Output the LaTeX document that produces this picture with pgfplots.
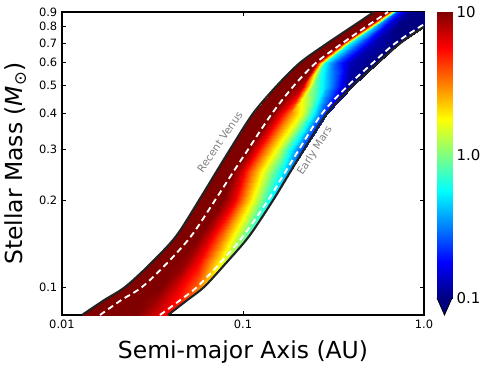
\documentclass[border=0pt]{standalone}
\usepackage{fontspec}
\setmainfont{DejaVu Sans}
\usepackage{pgfplots}
\pgfplotsset{compat=1.18}
\definecolor{jetdb}{rgb}{0,0,0.5}
\definecolor{edgegray}{HTML}{222222}
\begin{document}
\begin{tikzpicture}
\useasboundingbox (-46.5pt,-39.75pt) rectangle (316.5pt,236.25pt);
\begin{axis}[
  name=main, at={(0,0)}, anchor=south west,
  scale only axis, width=271.5pt, height=227.25pt,
  xmode=log, ymode=log,
  xmin=0.01, xmax=1, ymin=0.08, ymax=0.9,
  xtick={0.01,0.1,1}, xticklabels={0.01,0.1,1.0},
  ytick={0.1,0.2,0.3,0.4,0.5,0.6,0.7,0.8,0.9},
  yticklabels={0.1,0.2,0.3,0.4,0.5,0.6,0.7,0.8,0.9},
  xminorticks=false, yminorticks=false,
  tick align=inside, major tick length=3pt,
  every tick/.style={black, line width=0.6pt},
  axis line style={line width=0.9pt},
  tick label style={font=\fontsize{8.6}{10}\selectfont},
  xlabel={Semi-major Axis (AU)},
  ylabel={Stellar Mass (\textit{M}\textsubscript{⊙})},
  label style={font=\fontsize{17.6}{20}\selectfont},
  xlabel style={at={(axis description cs:0.5,-0.1232)}, anchor=center},
  ylabel style={at={(axis description cs:-0.129,0.5)}, anchor=center},
  colormap/jet, point meta min=-1, point meta max=1,
]
\addplot[surf, shader=interp, mesh/cols=7, point meta=\thisrow{c}] table {
x y c
0.01290 0.08 1
0.01622 0.08 1
0.01818 0.08 1
0.02118 0.08 1
0.02564 0.08 1
0.03479 0.08 0.8
0.03851 0.08 0.75
0.01706 0.09 1
0.02118 0.09 1
0.02375 0.09 1
0.02767 0.09 1
0.03306 0.09 0.95
0.04487 0.09 0.7
0.04906 0.09 0.6
0.02229 0.10 1
0.02767 0.10 1
0.03063 0.10 1
0.03523 0.10 1
0.04210 0.10 0.85
0.05570 0.10 0.55
0.06089 0.10 0.4
0.03063 0.12 1
0.03754 0.12 1
0.04158 0.12 1
0.04781 0.12 0.95
0.05641 0.12 0.75
0.07370 0.12 0.25
0.07953 0.12 0.15
0.04264 0.15 1
0.05160 0.15 1
0.05714 0.15 1
0.06489 0.15 0.85
0.07656 0.15 0.55
0.1000 0.15 0.0
0.1080 0.15 -0.1
0.05714 0.20 1
0.07003 0.20 1
0.07754 0.20 1
0.08918 0.20 0.8
0.1053 0.20 0.4
0.1375 0.20 -0.2
0.1465 0.20 -0.3
0.07093 0.25 1
0.08805 0.25 1
0.09749 0.25 0.85
0.1107 0.25 0.55
0.1306 0.25 0.2
0.1707 0.25 -0.35
0.1819 0.25 -0.45
0.08476 0.30 1
0.1066 0.30 1
0.1180 0.30 0.8
0.1340 0.30 0.5
0.1581 0.30 0.15
0.2039 0.30 -0.55
0.2173 0.30 -0.65
0.1136 0.40 1
0.1446 0.40 1
0.1601 0.40 0.8
0.1819 0.40 0.5
0.2118 0.40 0.2
0.2732 0.40 -0.6
0.2911 0.40 -0.7
0.1541 0.50 1
0.1913 0.50 1
0.2118 0.50 0.9
0.2436 0.50 0.0
0.2874 0.50 -0.35
0.3804 0.50 -0.95
0.4052 0.50 -1
0.2065 0.60 1
0.2531 0.60 1
0.2838 0.60 -0.25
0.3264 0.60 -0.6
0.3902 0.60 -0.9
0.5227 0.60 -1
0.5570 0.60 -1
0.2911 0.70 1
0.3523 0.70 1
0.3902 0.70 -0.25
0.4487 0.70 -0.6
0.5294 0.70 -0.9
0.6914 0.70 -1
0.7371 0.70 -1
0.4001 0.80 1
0.4782 0.80 1
0.5294 0.80 -0.35
0.6089 0.80 -0.8
0.7184 0.80 -1
0.9504 0.80 -1
1.000 0.80 -1
0.5294 0.90 1
0.6326 0.90 1
0.7003 0.90 -0.6
0.8158 0.90 -0.95
0.9749 0.90 -1
1.290 0.90 -1
1.357 0.90 -1
};
% Recent Venus (inner edge)
\addplot[edgegray, line width=1.6pt, smooth] coordinates {(0.01290,0.08) (0.01706,0.09) (0.02229,0.1) (0.03063,0.12) (0.04264,0.15) (0.05714,0.2) (0.07093,0.25) (0.08476,0.3) (0.1136,0.4) (0.1541,0.5) (0.2065,0.6) (0.2911,0.7) (0.4001,0.8) (0.5294,0.9)};
% Early Mars (outer edge)
\addplot[edgegray, line width=1.6pt, smooth] coordinates {(0.03851,0.08) (0.04906,0.09) (0.06089,0.1) (0.07953,0.12) (0.1080,0.15) (0.1465,0.2) (0.1819,0.25) (0.2173,0.3) (0.2911,0.4) (0.4052,0.5) (0.5570,0.6) (0.7371,0.7) (1.000,0.8) (1.357,0.9)};
% inner dashed
\addplot[white, line width=1.4pt, smooth, dash pattern=on 4.5pt off 3pt] coordinates {(0.01622,0.08) (0.02118,0.09) (0.02767,0.1) (0.03754,0.12) (0.05160,0.15) (0.07003,0.2) (0.08805,0.25) (0.1066,0.3) (0.1446,0.4) (0.1913,0.5) (0.2531,0.6) (0.3523,0.7) (0.4782,0.8) (0.6326,0.9)};
% outer dashed
\addplot[white, line width=1.4pt, smooth, dash pattern=on 4.5pt off 3pt] coordinates {(0.03479,0.08) (0.04487,0.09) (0.05570,0.1) (0.07370,0.12) (0.1000,0.15) (0.1375,0.2) (0.1707,0.25) (0.2039,0.3) (0.2732,0.4) (0.3804,0.5) (0.5227,0.6) (0.6914,0.7) (0.9504,0.8) (1.290,0.9)};
\node[rotate=55.6, text=gray, font=\fontsize{7.9}{9}\selectfont] at (axis cs:0.0745,0.3188) {Recent Venus};
\node[rotate=57.4, text=gray, font=\fontsize{7.9}{9}\selectfont] at (axis cs:0.2499,0.2967) {Early Mars};
\end{axis}
% colour bar
\begin{axis}[
  at={(281.25pt,12.75pt)}, anchor=south west,
  scale only axis, width=11.25pt, height=214.5pt,
  xmin=0, xmax=1, ymin=-1, ymax=1,
  xtick=\empty, ytick={-1,0,1}, yticklabels={0.1,1.0,10},
  ytick pos=right, yticklabel pos=right,
  tick align=inside, major tick length=3pt,
  every tick/.style={black, line width=0.6pt},
  tick label style={font=\fontsize{11.2}{13}\selectfont},
  axis line style={line width=0.6pt},
  clip=false,
  colormap/jet, point meta min=-1, point meta max=1,
]
\addplot[surf, shader=interp, mesh/cols=2, point meta=\thisrow{c}] table {
x y c
0 -1 -1
1 -1 -1
0 -0.75 -0.75
1 -0.75 -0.75
0 -0.5 -0.5
1 -0.5 -0.5
0 -0.25 -0.25
1 -0.25 -0.25
0 0 0
1 0 0
0 0.25 0.25
1 0.25 0.25
0 0.5 0.5
1 0.5 0.5
0 0.75 0.75
1 0.75 0.75
0 1 1
1 1 1
};
\draw[line width=0.6pt, fill=jetdb] (rel axis cs:0,0) -- (rel axis cs:0.5,-0.0594) -- (rel axis cs:1,0);
\end{axis}
\end{tikzpicture}
\end{document}
